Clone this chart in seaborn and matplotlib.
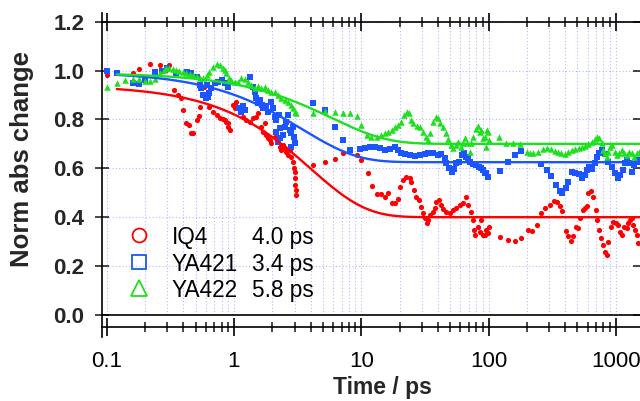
import numpy as np
import pandas as pd
import seaborn as sns
import matplotlib.pyplot as plt
from matplotlib.ticker import LogLocator, FixedLocator, FixedFormatter, NullFormatter

# ---- data -----------------------------------------------------------------
iq4_t = [0.10, 0.16, 0.18, 0.22, 0.26, 0.29, 0.31, 0.34, 0.36, 0.38, 0.40, 0.42, 0.44, 0.46,
         0.48, 0.51, 0.53, 0.54, 0.58, 0.64, 0.68, 0.73, 0.77, 0.82, 0.85, 0.87, 0.89, 0.90,
         0.925, 0.99, 1.01, 1.04, 1.11, 1.18, 1.25, 1.33, 1.42, 1.50, 1.55, 1.64, 1.69, 1.74,
         1.80, 1.86, 1.91, 1.97, 2.09, 2.22, 2.29, 2.36, 2.43, 2.50, 2.58, 2.66, 2.74, 2.83,
         2.91, 2.95, 3.00, 3.02, 3.04, 3.06, 3.08, 4.17, 5.17, 6.2, 7.2, 8.1, 9.2, 10.0, 11.3,
         12.2, 13.2, 14.2, 15.3, 16.3, 17.3, 18.4, 19.5, 20.3, 21.1, 22.3, 24.1, 24.7, 25.8,
         27.1, 28.2, 29.3, 30.6, 31.6, 32.6, 33.6, 34.6, 36.3, 38.0, 39.0, 40.8, 42.6, 44.0,
         46.5, 49.7, 52.7, 55.9, 59.5, 63.0, 66.3, 69.0, 73.3, 75.8, 77, 78, 82.6, 85.4, 88,
         90.7, 93.1, 96, 99, 101, 123, 143, 161, 181, 203, 221, 240, 260, 280, 303, 326, 346,
         364, 381, 406, 424, 445, 464, 487, 508, 522, 548, 572, 590, 607, 638, 666, 695, 716,
         738, 761, 798, 823, 848, 874, 910, 954, 1000, 1045, 1079, 1111, 1159, 1216, 1252,
         1292, 1332, 1372, 1415, 1458, 1503]
iq4_v = [0.98, 0.99, 1.006, 1.028, 1.022, 1.002, 1.022, 0.92, 0.90, 0.886, 0.838, 0.787, 0.777,
         0.746, 0.745, 0.797, 0.815, 0.852, 0.931, 0.852, 0.832, 0.818, 0.804, 0.80, 0.797,
         0.79, 0.77, 0.784, 0.757, 0.859, 0.845, 0.872, 0.832, 0.811, 0.797, 0.791, 0.804,
         0.811, 0.825, 0.770, 0.750, 0.784, 0.736, 0.723, 0.716, 0.702, 0.729, 0.709, 0.689,
         0.675, 0.695, 0.682, 0.668, 0.654, 0.675, 0.648, 0.627, 0.60, 0.586, 0.559, 0.532,
         0.51, 0.49, 0.613, 0.624, 0.638, 0.663, 0.675, 0.654, 0.634, 0.58, 0.529, 0.495,
         0.495, 0.481, 0.498, 0.459, 0.457, 0.473, 0.525, 0.552, 0.566, 0.559, 0.545, 0.511,
         0.484, 0.470, 0.443, 0.416, 0.395, 0.375, 0.389, 0.409, 0.423, 0.436, 0.463, 0.470,
         0.450, 0.432, 0.423, 0.416, 0.429, 0.436, 0.450, 0.457, 0.484, 0.450, 0.423, 0.389,
         0.348, 0.327, 0.361, 0.341, 0.389, 0.327, 0.327, 0.348, 0.334, 0.361, 0.320, 0.307,
         0.303, 0.316, 0.348, 0.345, 0.368, 0.416, 0.436, 0.450, 0.468, 0.461, 0.447, 0.427,
         0.345, 0.323, 0.304, 0.324, 0.361, 0.355, 0.395, 0.429, 0.436, 0.446, 0.498, 0.508,
         0.484, 0.429, 0.389, 0.348, 0.314, 0.286, 0.259, 0.245, 0.300, 0.361, 0.382, 0.375,
         0.368, 0.341, 0.327, 0.361, 0.355, 0.375, 0.389, 0.395, 0.368, 0.348, 0.327, 0.293]

ya421_t = [0.10, 0.12, 0.16, 0.18, 0.20, 0.24, 0.27, 0.30, 0.35, 0.43, 0.46, 0.51, 0.54, 0.55,
           0.57, 0.60, 0.61, 0.63, 0.64, 0.66, 0.71, 0.75, 0.80, 0.85, 0.90, 1.10, 1.14, 1.18,
           1.22, 1.33, 1.41, 1.45, 1.50, 1.55, 1.60, 1.65, 1.70, 1.78, 1.85, 1.97, 2.03, 2.09,
           2.15, 2.15, 2.22, 2.25, 2.29, 2.29, 2.43, 2.50, 2.58, 2.66, 2.74, 2.79, 2.83, 2.91,
           2.96, 3.00, 4.17, 5.17, 6.2, 7.2, 8.1, 9.7, 10.7, 11.7, 12.9, 14.0, 15.3, 16.8, 18.5,
           19.6, 20.7, 22.0, 24.1, 26.3, 28.8, 31.5, 33.6, 36.6, 40.0, 42.6, 45.3, 46.5, 48.9,
           51.2, 53.5, 56.0, 58.8, 61.6, 64.4, 67.0, 69.0, 72.0, 75.8, 80.3, 84.5, 88.0, 90.7,
           93.0, 96, 99.0, 123, 143, 161, 181, 260, 286, 307, 338, 364, 381, 406, 424, 452, 480,
           510, 543, 572, 590, 619, 645, 685, 716, 743, 778, 823, 874, 930, 990, 1036, 1079,
           1134, 1192, 1230, 1294, 1332, 1390, 1458, 1530]
ya421_v = [0.999, 0.988, 0.950, 0.943, 0.961, 0.993, 0.998, 1.009, 0.988, 0.995, 0.988, 0.975,
           0.941, 0.927, 0.900, 0.886, 0.941, 0.893, 0.907, 0.927, 0.948, 0.954, 0.961, 0.948,
           0.934, 0.845, 0.832, 0.855, 0.84, 0.975, 0.934, 0.913, 0.886, 0.866, 0.88, 0.86,
           0.845, 0.855, 0.83, 0.872, 0.845, 0.811, 0.797, 0.75, 0.709, 0.82, 0.764, 0.723,
           0.736, 0.770, 0.791, 0.818, 0.757, 0.689, 0.743, 0.770, 0.729, 0.702, 0.866, 0.838,
           0.770, 0.716, 0.675, 0.678, 0.682, 0.686, 0.686, 0.682, 0.675, 0.678, 0.686, 0.675,
           0.664, 0.658, 0.654, 0.650, 0.654, 0.658, 0.664, 0.661, 0.654, 0.658, 0.641, 0.620,
           0.600, 0.586, 0.596, 0.620, 0.627, 0.654, 0.664, 0.648, 0.641, 0.627, 0.618, 0.613,
           0.607, 0.600, 0.593, 0.580, 0.580, 0.563, 0.590, 0.625, 0.654, 0.672, 0.618, 0.593,
           0.569, 0.532, 0.508, 0.500, 0.518, 0.545, 0.584, 0.582, 0.577, 0.559, 0.573, 0.593,
           0.604, 0.596, 0.620, 0.648, 0.661, 0.675, 0.658, 0.627, 0.607, 0.580, 0.559, 0.573,
           0.593, 0.620, 0.634, 0.623, 0.586, 0.613, 0.627, 0.634]

ya422_t = [0.10, 0.12, 0.14, 0.16, 0.18, 0.20, 0.22, 0.24, 0.26, 0.28, 0.29, 0.31, 0.33, 0.35,
           0.37, 0.40, 0.42, 0.45, 0.48, 0.51, 0.54, 0.57, 0.61, 0.64, 0.69, 0.73, 0.77, 0.82,
           0.85, 0.87, 0.91, 0.95, 1.01, 1.08, 1.14, 1.21, 1.29, 1.37, 1.45, 1.55, 1.64, 1.74,
           1.85, 1.97, 2.09, 2.22, 2.36, 2.50, 2.66, 2.83, 2.91, 3.00, 3.09, 4.17, 5.17, 6.2,
           7.2, 8.1, 9.2, 10.0, 11.0, 12.0, 13.2, 14.4, 15.3, 16.3, 17.3, 18.4, 19.5, 20.7,
           21.8, 22.7, 23.8, 24.4, 25.6, 27.2, 28.8, 30.6, 32.2, 33.6, 35.0, 36.6, 38.5, 40.0,
           41.9, 44.0, 46.3, 48.3, 50.5, 52.7, 55.3, 57.8, 60.5, 62.9, 65.2, 68.2, 71.3, 73.3,
           75.8, 79.4, 83.0, 85.4, 87, 89.7, 93.1, 96, 97.0, 99, 101, 121, 138, 155, 176, 199,
           211, 222, 243, 267, 286, 307, 334, 353, 374, 398, 424, 452, 480, 510, 543, 572, 607,
           645, 685, 716, 743, 778, 798, 823, 848, 874, 899, 942, 990, 1018, 1066, 1111, 1159,
           1216, 1273, 1332, 1390, 1458, 1530]
ya422_v = [0.934, 0.948, 0.961, 0.965, 0.965, 0.957, 0.957, 0.965, 0.988, 1.002, 1.012, 1.009,
           1.006, 1.002, 0.998, 0.993, 0.988, 0.984, 0.982, 0.979, 0.968, 0.971, 0.982, 0.995,
           1.016, 1.025, 1.022, 1.009, 1.002, 0.988, 0.968, 0.961, 0.952, 0.954, 0.968, 0.965,
           0.954, 0.941, 0.930, 0.938, 0.927, 0.934, 0.920, 0.913, 0.911, 0.900, 0.886, 0.879,
           0.872, 0.859, 0.845, 0.832, 0.825, 0.825, 0.834, 0.832, 0.827, 0.827, 0.814, 0.777,
           0.736, 0.729, 0.729, 0.736, 0.743, 0.750, 0.757, 0.768, 0.777, 0.791, 0.818, 0.832,
           0.825, 0.798, 0.784, 0.773, 0.768, 0.750, 0.729, 0.716, 0.743, 0.791, 0.811, 0.804,
           0.784, 0.768, 0.743, 0.719, 0.695, 0.682, 0.695, 0.709, 0.689, 0.702, 0.723, 0.702,
           0.668, 0.702, 0.729, 0.759, 0.773, 0.750, 0.757, 0.723, 0.729, 0.689, 0.757, 0.750,
           0.716, 0.727, 0.705, 0.702, 0.700, 0.668, 0.661, 0.664, 0.668, 0.678, 0.682, 0.678,
           0.672, 0.668, 0.664, 0.658, 0.668, 0.675, 0.678, 0.682, 0.689, 0.691, 0.700, 0.709,
           0.719, 0.729, 0.723, 0.702, 0.675, 0.661, 0.648, 0.668, 0.689, 0.695, 0.668, 0.654,
           0.661, 0.675, 0.661, 0.654, 0.668, 0.661, 0.648, 0.661, 0.668]

# fit parameters: y = offset + amp * exp(-t / tau)
samples = ["IQ4", "YA421", "YA422"]
tau_ps = [4.0, 3.4, 5.8]
fit_amp = [0.54, 0.37, 0.29]
fit_offset = [0.40, 0.625, 0.70]
fit_start, fit_end = 0.12, 1550

x_ticks = [0.1, 1, 10, 100, 1000]
x_ticklabels = ["0.1", "1", "10", "100", "1000"]
y_ticks = [0.0, 0.2, 0.4, 0.6, 0.8, 1.0, 1.2]

colors = {"IQ4": "#ff0000", "YA421": "#1a55ff", "YA422": "#1ee01e"}
markers = {"IQ4": "o", "YA421": "s", "YA422": "^"}
msize = {"IQ4": 14, "YA421": 13, "YA422": 22}

# ---- figure ---------------------------------------------------------------
sns.set_theme(style="ticks")
plt.rcParams["font.family"] = ["Liberation Sans", "DejaVu Sans"]

W, H = 640, 401
L, R, T, B = 101.7, 640, 21.6, 315
fig = plt.figure(figsize=(W / 100, H / 100), dpi=100)
ax = fig.add_axes([L / W, 1 - B / H, (R - L) / W, (B - T) / H])

raw = pd.concat([
    pd.DataFrame({"t": iq4_t, "v": iq4_v, "sample": "IQ4"}),
    pd.DataFrame({"t": ya421_t, "v": ya421_v, "sample": "YA421"}),
    pd.DataFrame({"t": ya422_t, "v": ya422_v, "sample": "YA422"}),
], ignore_index=True)

ax.set_xscale("log")
grid_kw = dict(color="#b3b8ff", linestyle=(0, (1, 2)), linewidth=0.8)
ax.grid(True, which="both", axis="x", **grid_kw)
ax.grid(True, which="major", axis="y", **grid_kw)

for name in samples:
    sub = raw[raw["sample"] == name]
    sns.scatterplot(data=sub, x="t", y="v", marker=markers[name], color=colors[name],
                    s=msize[name], linewidth=0, legend=False, ax=ax, zorder=3)

tfit = np.geomspace(fit_start, fit_end, 400)
for name, tau, amp, off in zip(samples, tau_ps, fit_amp, fit_offset):
    yfit = off + amp * np.exp(-tfit / tau)
    sns.lineplot(x=tfit, y=yfit, color=colors[name], linewidth=1.7, estimator=None,
                 sort=False, ax=ax, zorder=4)

ax.set_xlim(0.0913, 1550)
ax.set_ylim(0, 1.2)

ax.xaxis.set_major_locator(FixedLocator(x_ticks))
ax.xaxis.set_major_formatter(FixedFormatter(x_ticklabels))
ax.xaxis.set_minor_locator(LogLocator(base=10, subs=np.arange(2, 10), numticks=20))
ax.xaxis.set_minor_formatter(NullFormatter())
ax.set_yticks(y_ticks)
ax.set_yticklabels([f"{v:.1f}" for v in y_ticks])

ax.tick_params(axis="x", which="major", direction="inout", length=13, width=1.2,
               top=True, bottom=True, labeltop=False, pad=11, labelsize=16, colors="black")
ax.tick_params(axis="x", which="minor", direction="inout", length=7, width=1.2,
               top=True, bottom=True)
ax.tick_params(axis="y", which="major", direction="inout", length=10, width=1.2,
               left=True, right=True, labelright=False, pad=7.5, labelsize=16)
for lab in ax.get_xticklabels() + ax.get_yticklabels():
    lab.set_fontweight("bold")

for side in ["left", "top", "bottom"]:
    ax.spines[side].set_linewidth(1.2)
    ax.spines[side].set_color("black")
ax.spines["right"].set_visible(False)
ax.spines["bottom"].set_position(("outward", 8.6))
ax.spines["left"].set_bounds(-0.09, 1.235)
ax.axhline(0, color="black", linewidth=1.2, clip_on=False, zorder=5)

ax.set_xlabel("Time / ps", fontsize=16.5, fontweight="bold")
ax.xaxis.set_label_coords((382 - L) / (R - L), (B - 376) / (B - T))
ax.set_ylabel("Norm abs change", fontsize=18.5, fontweight="bold")
ax.yaxis.set_label_coords((34 - L) / (R - L), (B - 159) / (B - T))

# legend block: marker, sample name, lifetime
leg_rows_y = [235, 261.7, 287.7]
for name, tau, py in zip(samples, tau_ps, leg_rows_y):
    yax = (B - py) / (B - T)
    ax.plot([(139 - L) / (R - L)], [yax], marker=markers[name], mfc="none",
            mec=colors[name], mew=1.3, ms=10 if name != "YA422" else 11.5,
            transform=ax.transAxes, clip_on=False, zorder=6)
    ax.text((171.7 - L) / (R - L), yax, name, transform=ax.transAxes, fontsize=16.3,
            va="center_baseline", ha="left", color="black")
    ax.text((251.7 - L) / (R - L), yax, f"{tau:.1f} ps", transform=ax.transAxes,
            fontsize=16.3, va="center_baseline", ha="left", color="black")

fig.savefig("out.png", dpi=100)
